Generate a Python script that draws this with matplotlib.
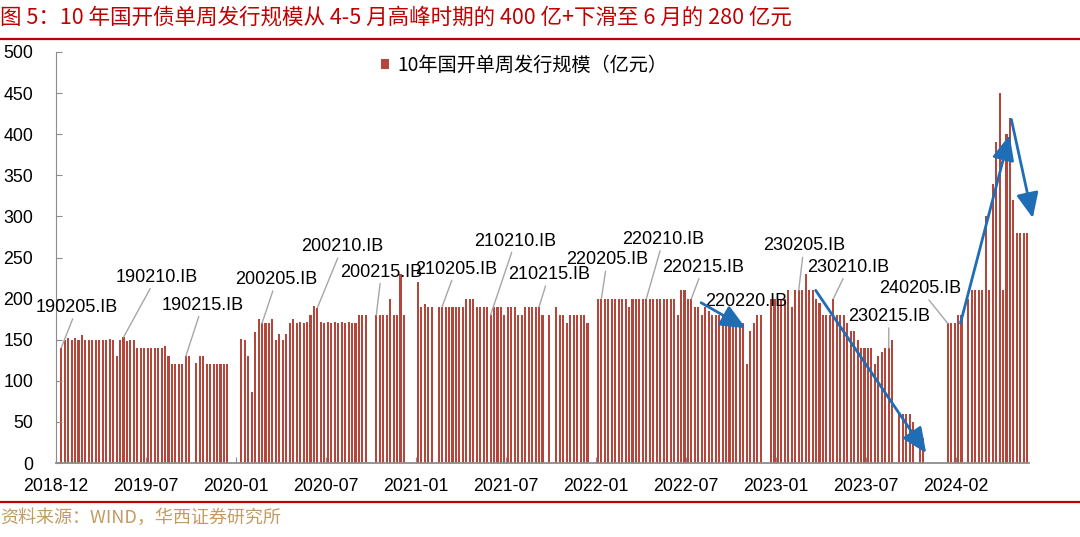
import numpy as np
import matplotlib
matplotlib.use("Agg")
import matplotlib.pyplot as plt
from matplotlib.lines import Line2D

# weekly issuance of 10Y CDB bonds (100m yuan), one list per 26-week tick period
wk_1812 = [0, 140, 150, 152, 150, 152, 150, 156, 150, 150, 150, 150, 150, 150,
           150, 151, 150, 130, 150, 153, 148, 150, 150, 140, 140, 140]
wk_1907 = [140, 140, 140, 140, 140, 142, 130, 120, 120, 120, 120, 130, 130,
           0, 122, 130, 130, 120, 120, 120, 120, 120, 121, 120, 0, 0]
wk_2001 = [0, 151, 150, 130, 86, 159, 175, 170, 170, 170, 175, 150, 157,
           150, 157, 170, 175, 170, 172, 170, 172, 180, 191, 189, 171, 170]
wk_2007 = [171, 170, 171, 170, 171, 170, 172, 170, 170, 180, 180, 180, 0,
           0, 180, 180, 180, 180, 200, 180, 180, 230, 180, 0, 0, 0]
wk_2101 = [220, 190, 193, 190, 190, 0, 190, 190, 190, 190, 190, 190, 190,
           190, 200, 200, 200, 190, 190, 190, 190, 180, 190, 190, 190, 180]
wk_2107 = [190, 190, 190, 180, 180, 190, 190, 190, 190, 190, 180, 0, 180,
           0, 190, 180, 180, 170, 180, 180, 180, 180, 180, 170, 0, 0]
wk_2201 = [200, 200, 200, 200, 200, 200, 200, 200, 200, 190, 200, 200, 200,
           200, 200, 200, 200, 200, 200, 200, 200, 200, 200, 180, 210, 210]
wk_2207 = [200, 200, 190, 190, 180, 190, 185, 180, 180, 180, 180, 175, 170,
           170, 170, 170, 170, 120, 160, 170, 180, 180, 0, 0, 200, 200]
wk_2301 = [200, 200, 200, 210, 190, 210, 210, 210, 230, 210, 210, 200, 195,
           180, 180, 180, 200, 180, 180, 180, 170, 160, 160, 150, 140, 140]
wk_2307 = [140, 140, 120, 130, 135, 140, 140, 150, 0, 60, 60, 60, 60,
           50, 0, 40, 30, 0, 0, 0, 0, 0, 0, 170, 170, 170]
wk_2402 = [180, 180, 0, 200, 210, 210, 210, 210, 300, 210, 340, 390, 450,
           210, 400, 420, 320, 280, 280, 280, 280]

tick_labels = ["2018-12", "2019-07", "2020-01", "2020-07", "2021-01", "2021-07",
               "2022-01", "2022-07", "2023-01", "2023-07", "2024-02"]

# new bonds and the week they were first issued (index into the weekly series)
bond_names = ["190205.IB", "190210.IB", "190215.IB", "200205.IB", "200210.IB",
              "200215.IB", "210205.IB", "210210.IB", "210215.IB", "220205.IB",
              "220210.IB", "220215.IB", "230205.IB", "230210.IB", "230215.IB",
              "240205.IB"]
bond_weeks = [1, 19, 37, 59, 75, 92, 111, 125, 139, 157, 170, 183, 214, 224, 240, 257]
# where each label sits (week, value units)
label_pos = [(5.6, 189), (28.5, 226), (41.8, 192), (63.2, 223), (82.2, 263),
             (93.5, 232), (115, 236), (132.2, 270), (141.9, 229), (158.7, 247),
             (174.9, 272), (186.4, 238), (215.5, 264), (228.4, 238), (240, 178),
             (249, 212)]

weekly = np.array(wk_1812 + wk_1907 + wk_2001 + wk_2007 + wk_2101 + wk_2107
                  + wk_2201 + wk_2207 + wk_2301 + wk_2307 + wk_2402)

BAR = "#B4463C"
BLUE = "#1F6EB5"
RED = "#C00000"
GRID = "#8C8C8C"
CJK = ["Noto Sans CJK SC", "DejaVu Sans"]
LAT = ["Liberation Sans", "DejaVu Sans"]

fig = plt.figure(figsize=(10.8, 5.37), dpi=100)
ax = fig.add_axes([56 / 1080, 1 - 463 / 537, (1029 - 56) / 1080, (463 - 52) / 537])

x = np.arange(len(weekly))
ax.bar(x, weekly, width=0.6, color=BAR, label="10年国开单周发行规模（亿元）")

ax.set_xlim(-0.5, len(weekly) - 0.5)
ax.set_ylim(0, 500)
ax.set_yticks(np.arange(0, 501, 50))
ax.set_xticks(np.arange(len(tick_labels)) * 26 - 0.5)
ax.set_xticklabels(tick_labels)

for lab in ax.get_xticklabels() + ax.get_yticklabels():
    lab.set_fontfamily(LAT)
    lab.set_fontsize(12.8)

ax.tick_params(axis="y", direction="in", length=4, color=GRID, pad=16.5)
ax.tick_params(axis="x", direction="in", length=4, color=GRID, pad=10.5)
for side in ["top", "right"]:
    ax.spines[side].set_visible(False)
for side in ["left", "bottom"]:
    ax.spines[side].set_color(GRID)
ax.spines["bottom"].set_linewidth(1.3)

# bond labels with leader lines
for name, wk, (tx, ty) in zip(bond_names, bond_weeks, label_pos):
    ax.annotate(name, xy=(wk, weekly[wk]), xytext=(tx, ty),
                ha="center", va="center", fontsize=13, family=LAT,
                arrowprops=dict(arrowstyle="-", color="#A6A6A6", lw=1,
                                shrinkA=0, shrinkB=0))
ax.text(198.7, 196, "220220.IB", ha="center", va="center", fontsize=13, family=LAT)

# trend arrows
arrows = [((185.8, 195), (198.7, 164)),
          ((218.9, 210), (250.8, 12)),
          ((260.7, 170), (274.9, 399)),
          ((275.4, 418), (281.6, 298))]
for start, end in arrows:
    ax.annotate("", xy=end, xytext=start, annotation_clip=False,
                arrowprops=dict(arrowstyle="-|>,head_length=0.9,head_width=0.4",
                                color=BLUE, lw=2, mutation_scale=17,
                                shrinkA=0, shrinkB=0))

ax.legend(loc="center left", bbox_to_anchor=(381 / 1080, 1 - 65 / 537),
          bbox_transform=fig.transFigure, frameon=False, borderpad=0,
          borderaxespad=0, handlelength=0.42, handleheight=0.42,
          handletextpad=0.45, prop={"family": CJK, "size": 13.8})

fig.text(0.0, 1 - 18 / 537,
         "图 5：10 年国开债单周发行规模从 4-5 月高峰时期的 400 亿+下滑至 6 月的 280 亿元",
         color=RED, fontsize=15.5, family=CJK, va="center", ha="left")
fig.add_artist(Line2D([0, 1], [1 - 38.8 / 537] * 2, transform=fig.transFigure,
                      color=RED, lw=1.6))
fig.add_artist(Line2D([0, 1], [1 - 501.5 / 537] * 2, transform=fig.transFigure,
                      color=RED, lw=1.6))
fig.text(0.0, 1 - 518 / 537, "资料来源：WIND，华西证券研究所",
         color="#C29B61", fontsize=13, family=CJK, va="center", ha="left")

fig.savefig("out.png", dpi=100)
